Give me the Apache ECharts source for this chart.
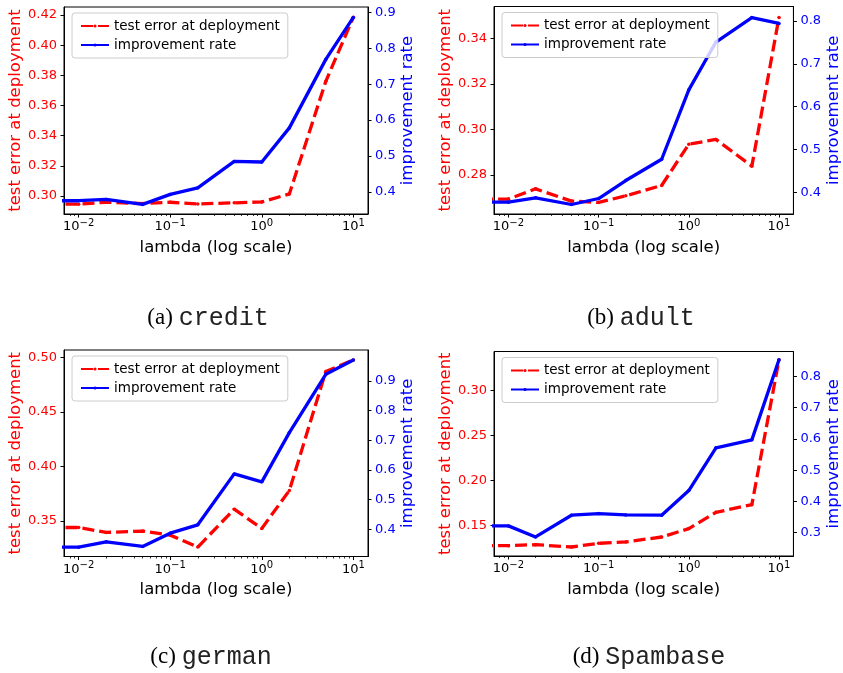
<!DOCTYPE html>
<html><head><meta charset="utf-8">
<script src="https://cdn.jsdelivr.net/npm/echarts@6/dist/echarts.min.js"></script>
<style>html,body{margin:0;padding:0;background:#fff}#c{width:843px;height:673px}</style>
</head><body><div id="c"></div>
<script>
// ---------------- data ----------------
const lambdas = [0.0001, 0.01, 0.02, 0.05, 0.1, 0.2, 0.5, 1, 2, 5, 10];

const creditError       = [0.2945, 0.2945, 0.2958, 0.2949, 0.2958, 0.2947, 0.2954, 0.2960, 0.3013, 0.3760, 0.4185];
const creditImprovement = [0.3740, 0.3750, 0.3786, 0.3647, 0.3926, 0.4110, 0.4845, 0.4830, 0.5780, 0.7690, 0.8860];

const adultError        = [0.2692, 0.2693, 0.2738, 0.2684, 0.2678, 0.2707, 0.2753, 0.2935, 0.2956, 0.2838, 0.3494];
const adultImprovement  = [0.3759, 0.3767, 0.3868, 0.3712, 0.3852, 0.4272, 0.4770, 0.6390, 0.7510, 0.8080, 0.7945];

const germanError       = [0.3439, 0.3439, 0.3394, 0.3406, 0.3369, 0.3259, 0.3607, 0.3430, 0.3778, 0.4869, 0.4976];
const germanImprovement = [0.3393, 0.3393, 0.3573, 0.3416, 0.3865, 0.4146, 0.5865, 0.5596, 0.7258, 0.9225, 0.9708];

const spamError         = [0.1278, 0.1278, 0.1289, 0.1263, 0.1304, 0.1319, 0.1374, 0.1467, 0.1648, 0.1733, 0.3341];
const spamImprovement   = [0.3214, 0.3214, 0.2861, 0.3556, 0.3609, 0.3566, 0.3556, 0.4346, 0.5714, 0.5970, 0.8535];

const xMajorTicks = [0.01, 0.1, 1, 10];
const xMinorTicks = [0.008, 0.009, 0.02, 0.03, 0.04, 0.05, 0.06, 0.07, 0.08, 0.09,
                     0.2, 0.3, 0.4, 0.5, 0.6, 0.7, 0.8, 0.9, 2, 3, 4, 5, 6, 7, 8, 9];

const creditLeftTicks  = [0.30, 0.32, 0.34, 0.36, 0.38, 0.40, 0.42];
const creditRightTicks = [0.4, 0.5, 0.6, 0.7, 0.8, 0.9];
const adultLeftTicks   = [0.28, 0.30, 0.32, 0.34];
const adultRightTicks  = [0.4, 0.5, 0.6, 0.7, 0.8];
const germanLeftTicks  = [0.35, 0.40, 0.45, 0.50];
const germanRightTicks = [0.4, 0.5, 0.6, 0.7, 0.8, 0.9];
const spamLeftTicks    = [0.15, 0.20, 0.25, 0.30];
const spamRightTicks   = [0.3, 0.4, 0.5, 0.6, 0.7, 0.8];

const captionLetters = ['(a)', '(b)', '(c)', '(d)'];
const captionNames   = ['credit', 'adult', 'german', 'Spambase'];

const errName = 'test error at deployment';
const impName = 'improvement rate';
const xName = 'lambda (log scale)';

// ---------------- layout ----------------
const FONT = "'DejaVu Sans', sans-serif";
const RED = '#ff0000', BLUE = '#0000ff';
const xMin = Math.pow(10, -2.16), xMax = Math.pow(10, 1.16);

const panels = [
  {err: creditError, imp: creditImprovement, lt: creditLeftTicks, rt: creditRightTicks,
   g: {left: 64, top: 7, width: 304, height: 207}, yL: [0.288, 0.4253], yR: [0.338, 0.915], cap: [208, 318]},
  {err: adultError, imp: adultImprovement, lt: adultLeftTicks, rt: adultRightTicks,
   g: {left: 494, top: 6.5, width: 302.5, height: 207.5}, yL: [0.2627, 0.3542], yR: [0.349, 0.834], cap: [641, 318]},
  {err: germanError, imp: germanImprovement, lt: germanLeftTicks, rt: germanRightTicks,
   g: {left: 64, top: 350, width: 304, height: 206.5}, yL: [0.3173, 0.5067], yR: [0.3077, 1.0045], cap: [211, 657]},
  {err: spamError, imp: spamImprovement, lt: spamLeftTicks, rt: spamRightTicks,
   g: {left: 494, top: 351.5, width: 302.5, height: 204.5}, yL: [0.1163, 0.3433], yR: [0.225, 0.880], cap: [649, 657]}
];

const supMap = {'-': '\u2212'};
function expLabel(v) {
  const e = Math.round(Math.log10(v));
  const s = String(e).split('').map(c => supMap[c] || c).join('');
  return '{b|10}{s|' + s + '}';
}

const grid = [], xAxis = [], yAxis = [], series = [], legend = [], graphic = [];

panels.forEach((p, i) => {
  grid.push(Object.assign({show: true, borderColor: '#000', borderWidth: 1, backgroundColor: 'transparent'}, p.g));
  xAxis.push({
    type: 'log', logBase: 10, gridIndex: i, min: xMin, max: xMax, position: 'bottom',
    axisLine: {show: true, lineStyle: {color: '#000', width: 1}},
    axisTick: {show: true, length: 3.5, customValues: xMajorTicks, lineStyle: {color: '#000', width: 1}},
    axisLabel: {show: true, customValues: xMajorTicks, margin: 4, formatter: expLabel,
      rich: {
        b: {fontSize: 13, fontFamily: FONT, color: '#000', lineHeight: 18, verticalAlign: 'middle'},
        s: {fontSize: 10, fontFamily: FONT, color: '#000', lineHeight: 10, verticalAlign: 'top'}
      }},
    splitLine: {show: false},
    name: xName, nameLocation: 'middle', nameGap: 25,
    nameTextStyle: {fontSize: 16.5, fontFamily: FONT, color: '#000'}
  });
  xAxis.push({
    type: 'log', logBase: 10, gridIndex: i, min: xMin, max: xMax, position: 'bottom',
    axisLine: {show: false},
    axisTick: {show: true, length: 2, customValues: xMinorTicks, lineStyle: {color: '#000', width: 0.8}},
    axisLabel: {show: false},
    splitLine: {show: false}
  });
  yAxis.push({
    type: 'value', gridIndex: i, position: 'left', min: p.yL[0], max: p.yL[1],
    axisLine: {show: true, lineStyle: {color: '#000', width: 1}},
    axisTick: {show: true, length: 3.5, customValues: p.lt, lineStyle: {color: '#000', width: 1}},
    axisLabel: {show: true, customValues: p.lt, margin: 7, color: RED, fontSize: 13, fontFamily: FONT,
      formatter: v => v.toFixed(2)},
    splitLine: {show: false},
    name: errName, nameLocation: 'middle', nameRotate: 90, nameGap: 38,
    nameTextStyle: {fontSize: 16.5, fontFamily: FONT, color: RED}
  });
  yAxis.push({
    type: 'value', gridIndex: i, position: 'right', min: p.yR[0], max: p.yR[1],
    axisLine: {show: true, lineStyle: {color: '#000', width: 1}},
    axisTick: {show: true, length: 3.5, customValues: p.rt, lineStyle: {color: '#000', width: 1}},
    axisLabel: {show: true, customValues: p.rt, margin: 7, color: BLUE, fontSize: 13, fontFamily: FONT,
      formatter: v => v.toFixed(1)},
    splitLine: {show: false},
    name: impName, nameLocation: 'middle', nameRotate: 90, nameGap: 29,
    nameTextStyle: {fontSize: 16.5, fontFamily: FONT, color: BLUE}
  });
  series.push({
    type: 'line', name: errName, xAxisIndex: 2 * i, yAxisIndex: 2 * i,
    data: lambdas.map((x, k) => [x, p.err[k]]),
    symbol: 'circle', symbolSize: 3.5, showSymbol: true, clip: true, z: 2,
    lineStyle: {color: RED, width: 3.3, type: [12, 5]}, itemStyle: {color: RED}
  });
  series.push({
    type: 'line', name: impName, xAxisIndex: 2 * i, yAxisIndex: 2 * i + 1,
    data: lambdas.map((x, k) => [x, p.imp[k]]),
    symbol: 'circle', symbolSize: 3.5, showSymbol: true, clip: true, z: 3,
    lineStyle: {color: BLUE, width: 3.3, type: 'solid'}, itemStyle: {color: BLUE}
  });
  legend.push({
    orient: 'vertical', left: p.g.left + 8, top: p.g.top + 6,
    data: [errName, impName], selectedMode: false,
    itemWidth: 28, itemHeight: 4, itemGap: 5, padding: [6, 8],
    borderColor: '#cccccc', borderWidth: 1, borderRadius: 3,
    backgroundColor: 'rgba(255,255,255,0.8)',
    textStyle: {fontSize: 13.5, fontFamily: FONT, color: '#000'}
  });
  graphic.push({
    type: 'text', x: p.cap[0], y: p.cap[1],
    style: {
      text: '{p|' + captionLetters[i] + ' }{t|' + captionNames[i] + '}',
      align: 'center', verticalAlign: 'middle',
      rich: {
        p: {fontFamily: "'Liberation Serif', serif", fontSize: 23, fill: '#000'},
        t: {fontFamily: "'Liberation Mono', monospace", fontSize: 25, fill: '#222'}
      }
    }
  });
});

const chart = echarts.init(document.getElementById('c'), null, {renderer: 'canvas'});
chart.setOption({
  animation: false,
  backgroundColor: '#fff',
  grid, xAxis, yAxis, series, legend, graphic
});
</script></body></html>
